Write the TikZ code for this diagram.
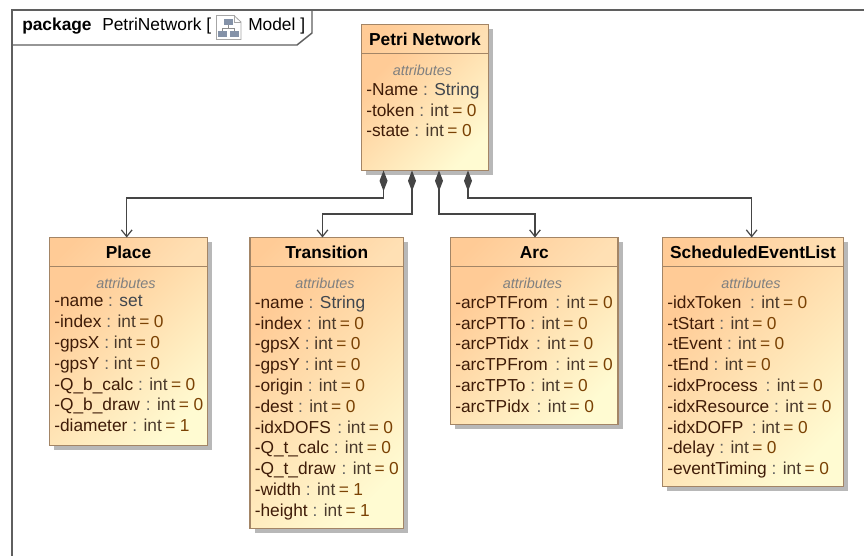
\documentclass[tikz,border=0pt]{standalone}
\usepackage{fontspec}
\setmainfont{Liberation Sans}
\usetikzlibrary{arrows.meta,shadows}

\definecolor{frameline}{HTML}{5F5F5F}
\definecolor{boxline}{HTML}{A38566}
\definecolor{wireline}{HTML}{454545}
\definecolor{attrname}{HTML}{3F1C08}
\definecolor{attrtype}{HTML}{4A3A2C}
\definecolor{attrvalue}{HTML}{7A4204}
\definecolor{attrclass}{HTML}{40464E}
\definecolor{shadestart}{HTML}{FFCB96}
\definecolor{headend}{HTML}{FFE0B4}
\definecolor{bodyend}{HTML}{FFFBD2}
\definecolor{iconbox}{HTML}{8492A8}

\newcommand{\attr}[3]{\textcolor{attrname}{#1} \textcolor{frameline}{:} \textcolor{attrtype}{#2}\hspace{.2em}\textcolor{attrvalue}{=\hspace{.26em}#3}}
\newcommand{\attrs}[2]{\textcolor{attrname}{#1} \textcolor{frameline}{:} \textcolor{attrclass}{#2}}

\tikzset{
    frame/.style = {color=frameline, line width=1.1pt},
    headbox/.style = {draw=boxline, line width=0.9pt, top color=shadestart, bottom color=headend, shading angle=45,
        anchor=north west, inner sep=0pt, outer sep=0pt, minimum height=22pt, font={\fontsize{13}{15.6}\selectfont\bfseries},
        drop shadow={shadow xshift=3.4pt, shadow yshift=-3.4pt, fill=black!28, opacity=1}},
    bodybox/.style = {draw=boxline, line width=0.9pt, top color=shadestart, bottom color=bodyend, shading angle=45,
        anchor=north west, inner sep=0pt, outer sep=0pt,
        drop shadow={shadow xshift=3.4pt, shadow yshift=-3.4pt, fill=black!28, opacity=1}},
    attrlabel/.style = {anchor=base, inner sep=0pt, color=black!50, font={\fontsize{10.8}{13}\selectfont\itshape}},
    attrlines/.style = {anchor=north west, inner sep=0pt, align=left, font={\fontsize{13}{15.6}\selectfont}},
    wire/.style = {color=wireline, line width=1pt,
        {Diamond[length=15.5pt, width=6pt]}-{Straight Barb[length=5pt, width=8pt, line width=0.9pt]}},
    framelabel/.style = {anchor=base west, inner sep=0pt, font={\fontsize{13}{15.6}\selectfont}}
}

\begin{document}
\begin{tikzpicture}[x=0.75pt, y=-0.75pt]
    \useasboundingbox (0,0) rectangle (864,556);
    \fill[white] (0,0) rectangle (864,556);

    \draw[frame] (12,556) -- (12,10) -- (864,10);
    \draw[frame] (12,45) -- (297,45) -- (312,33) -- (312,10);
    \node[framelabel, font={\fontsize{13}{15.6}\selectfont\bfseries}] (pkgWord) at (22,30.5) {package};
    \node[framelabel] (pkgName) at (102,30.5) {PetriNetwork [};
    \node[framelabel] (pkgKind) at (248,30.5) {Model ]};

    \draw[color=black!35, fill=white, line width=0.6pt] (216.5,15.5) -- (234,15.5) -- (241,22) -- (241,39.5) -- (216.5,39.5) -- cycle;
    \draw[color=black!35, line width=0.6pt] (234,15.5) -- (234,22) -- (241,22);
    \draw[color=black!45, line width=0.5pt] (228.5,25) -- (228.5,28) (222.5,31) -- (222.5,28) -- (234.5,28) -- (234.5,31);
    \fill[color=iconbox] (224,19) rectangle (233,25);
    \fill[color=iconbox] (218,31) rectangle (227,37);
    \fill[color=iconbox] (230,31) rectangle (239,37);

    \node[headbox, minimum width=95.25pt] (petriHead) at (361.5,24.5) {Petri Network};
    \node[bodybox, minimum width=95.25pt, minimum height=87.5pt] (petriBody) at (petriHead.south west) {};
    \node[attrlabel] (petriLabel) at (422.5,75.5) {attributes};
    \node[attrlines] (petriAttr) at (366,82.5) {\attrs{-Name}{String}\\\attr{-token}{int}{0}\\\attr{-state}{int}{0}};

    \node[headbox, minimum width=118.5pt] (placeHead) at (49.5,237.5) {Place};
    \node[bodybox, minimum width=118.5pt, minimum height=134pt] (placeBody) at (placeHead.south west) {};
    \node[attrlabel] (placeLabel) at (126,288) {attributes};
    \node[attrlines] (placeAttr) at (54,295.5) {\attrs{-name}{set}\\\attr{-index}{int}{0}\\\attr{-gpsX}{int}{0}\\\attr{-gpsY}{int}{0}\\\attr{-Q\_b\_calc}{int}{0}\\\attr{-Q\_b\_draw\hspace{.06em}}{int}{0}\\\attr{-diameter}{int}{1}};

    \node[headbox, minimum width=115.1pt] (transHead) at (250,237.5) {Transition};
    \node[bodybox, minimum width=115.1pt, minimum height=196.25pt] (transBody) at (transHead.south west) {};
    \node[attrlabel] (transLabel) at (325,288) {attributes};
    \node[attrlines] (transAttr) at (254.5,295.5) {\attrs{-name}{String}\\\attr{-index}{int}{0}\\\attr{-gpsX}{int}{0}\\\attr{-gpsY}{int}{0}\\\attr{-origin}{int}{0}\\\attr{-dest}{int}{0}\\\attr{-idxDOFS\hspace{.1em}}{int}{0}\\\attr{-Q\_t\_calc}{int}{0}\\\attr{-Q\_t\_draw\hspace{.06em}}{int}{0}\\\attr{-width}{int}{1}\\\attr{-height}{int}{1}};

    \node[headbox, minimum width=125.6pt] (arcHead) at (450.5,237.5) {Arc};
    \node[bodybox, minimum width=125.6pt, minimum height=118.25pt] (arcBody) at (arcHead.south west) {};
    \node[attrlabel] (arcLabel) at (532.5,288) {attributes};
    \node[attrlines] (arcAttr) at (455,295.5) {\attr{-arcPTFrom\hspace{.17em}}{int}{0}\\\attr{-arcPTTo}{int}{0}\\\attr{-arcPTidx\hspace{.14em}}{int}{0}\\\attr{-arcTPFrom\hspace{.17em}}{int}{0}\\\attr{-arcTPTo}{int}{0}\\\attr{-arcTPidx\hspace{.14em}}{int}{0}};

    \node[headbox, minimum width=135.75pt] (eventHead) at (662.5,237.5) {ScheduledEventList};
    \node[bodybox, minimum width=135.75pt, minimum height=164.75pt] (eventBody) at (eventHead.south west) {};
    \node[attrlabel] (eventLabel) at (751,288) {attributes};
    \node[attrlines] (eventAttr) at (667,295.5) {\attr{-idxToken\hspace{.22em}}{int}{0}\\\attr{-tStart}{int}{0}\\\attr{-tEvent}{int}{0}\\\attr{-tEnd}{int}{0}\\\attr{-idxProcess\hspace{.17em}}{int}{0}\\\attr{-idxResource}{int}{0}\\\attr{-idxDOFP\hspace{.22em}}{int}{0}\\\attr{-delay}{int}{0}\\\attr{-eventTiming}{int}{0}};

    \draw[wire] ([xshift=-31.1pt]petriBody.south) -- ++(0,27.5) -| ([xshift=-1.35pt]placeHead.north);
    \draw[wire] ([xshift=-9.75pt]petriBody.south) -- ++(0,43.5) -| ([xshift=-3.2pt]transHead.north);
    \draw[wire] ([xshift=10.5pt]petriBody.south) -- ++(0,43.5) -| ([xshift=0.55pt]arcHead.north);
    \draw[wire] ([xshift=32.25pt]petriBody.south) -- ++(0,27.5) -| ([xshift=-1pt]eventHead.north);
\end{tikzpicture}
\end{document}
